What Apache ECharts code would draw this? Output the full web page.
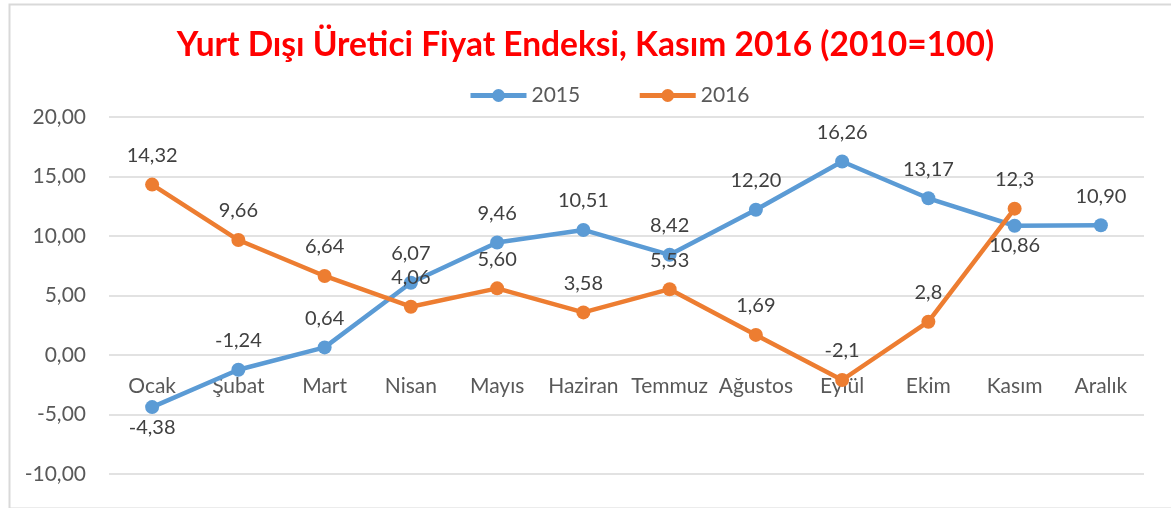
<!DOCTYPE html>
<html>
<head>
<meta charset="utf-8">
<script src="https://cdn.jsdelivr.net/npm/echarts@6/dist/echarts.min.js"></script>
<style>
  html, body { margin: 0; padding: 0; background: #fff; }
  #chart { width: 1171px; height: 508px; }
</style>
</head>
<body>
<div id="chart"></div>
<script>
// aylar
var months = ['Ocak', 'Şubat', 'Mart', 'Nisan', 'Mayıs', 'Haziran', 'Temmuz', 'Ağustos', 'Eylül', 'Ekim', 'Kasım', 'Aralık'];
// 2015 değerleri ve etiketleri
var values2015 = [-4.38, -1.24, 0.64, 6.07, 9.46, 10.51, 8.42, 12.20, 16.26, 13.17, 10.86, 10.90];
var labels2015 = ['-4,38', '-1,24', '0,64', '6,07', '9,46', '10,51', '8,42', '12,20', '16,26', '13,17', '10,86', '10,90'];
// 2016 değerleri ve etiketleri (Aralık yok)
var values2016 = [14.32, 9.66, 6.64, 4.06, 5.60, 3.58, 5.53, 1.69, -2.1, 2.8, 12.3, null];
var labels2016 = ['14,32', '9,66', '6,64', '4,06', '5,60', '3,58', '5,53', '1,69', '-2,1', '2,8', '12,3', ''];
// y ekseni
var yMin = -10, yMax = 20, yStep = 5;

var FONT = 'Lato, "Open Sans", sans-serif';
var below2015 = [0, 10]; // etiketi altta olan noktalar

var buildData = function(values, labels, below) {
  var out = [];
  for (var i = 0; i < values.length; i++) {
    var item = { value: values[i], labelText: labels[i] };
    if (below && below.indexOf(i) >= 0) {
      item.label = { position: 'bottom', distance: 3 };
    }
    out.push(item);
  }
  return out;
};

var lineSeries = function(name, color, data) {
  return {
    name: name,
    type: 'line',
    data: data,
    symbol: 'circle',
    symbolSize: 14,
    lineStyle: { width: 4.5, color: color },
    itemStyle: { color: color },
    label: {
      show: true,
      position: 'top',
      distance: 12,
      fontFamily: FONT,
      fontSize: 20,
      color: '#404040',
      formatter: function(p) { return p.data.labelText; }
    },
    emphasis: { disabled: true },
    animation: false
  };
};

var chart = echarts.init(document.getElementById('chart'));
chart.setOption({
  backgroundColor: '#fff',
  title: {
    text: 'Yurt Dışı Üretici Fiyat Endeksi, Kasım 2016 (2010=100)',
    left: 'center',
    top: 23,
    textStyle: { fontFamily: FONT, fontSize: 33.5, fontWeight: 'bold', color: '#ff0000' }
  },
  legend: {
    top: 80,
    left: 463,
    itemWidth: 56,
    itemHeight: 16,
    itemGap: 57,
    lineStyle: { width: 5 },
    textStyle: { fontFamily: FONT, fontSize: 21, color: '#595959' },
    data: [
      { name: '2015', lineStyle: { width: 5 } },
      { name: '2016', lineStyle: { width: 5 } }
    ]
  },
  graphic: [{
    type: 'rect',
    left: 7, top: 2,
    shape: { width: 1200, height: 504 },
    style: { fill: 'none', stroke: '#d9d9d9', lineWidth: 2 },
    silent: true
  }],
  grid: { left: 109, right: 27, top: 117, bottom: 34, outerBoundsMode: 'none' },
  xAxis: {
    type: 'category',
    data: months,
    boundaryGap: true,
    offset: -119, // eksen 0 çizgisinde
    axisLine: { show: false, onZero: false },
    axisTick: { show: false },
    axisLabel: { margin: 21, fontFamily: FONT, fontSize: 21, color: '#595959', interval: 0 }
  },
  yAxis: {
    type: 'value',
    min: yMin,
    max: yMax,
    interval: yStep,
    axisLine: { show: false },
    axisTick: { show: false },
    splitLine: { lineStyle: { color: '#d9d9d9', width: 1.5 } },
    axisLabel: {
      margin: 23,
      fontFamily: FONT,
      fontSize: 21,
      color: '#595959',
      formatter: function(v) { return v.toFixed(2).replace('.', ','); }
    }
  },
  series: [
    lineSeries('2015', '#5b9bd5', buildData(values2015, labels2015, below2015)),
    lineSeries('2016', '#ed7d31', buildData(values2016, labels2016, null))
  ]
});
</script>
</body>
</html>
